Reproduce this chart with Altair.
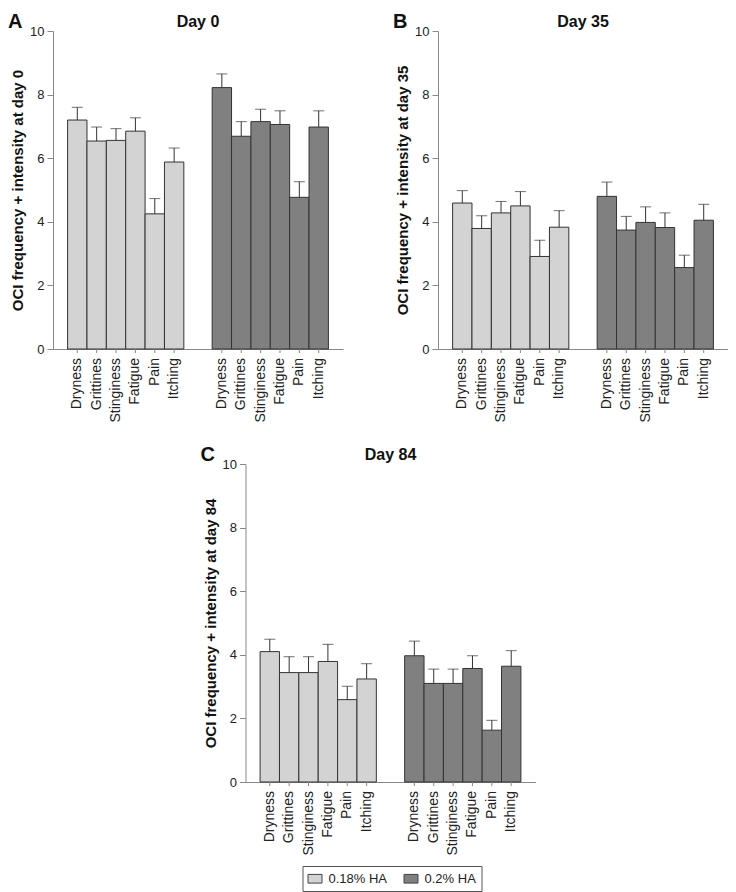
import altair as alt
import pandas as pd

FONT = "Liberation Sans"
W = 290
H = 318

symptoms = ["Dryness", "Grittines", "Stinginess", "Fatigue", "Pain", "Itching"]
groups = ["0.18% HA", "0.2% HA"]
fills = ["#d3d3d3", "#808080"]

# Day 0
d0_low = [7.20, 6.54, 6.56, 6.85, 4.25, 5.88]
d0_low_top = [7.60, 6.98, 6.93, 7.27, 4.73, 6.32]
d0_high = [8.22, 6.69, 7.15, 7.06, 4.77, 6.98]
d0_high_top = [8.65, 7.15, 7.54, 7.49, 5.26, 7.49]

# Day 35
d35_low = [4.59, 3.79, 4.28, 4.50, 2.91, 3.83]
d35_low_top = [4.98, 4.19, 4.64, 4.95, 3.42, 4.35]
d35_high = [4.80, 3.74, 3.98, 3.82, 2.56, 4.05]
d35_high_top = [5.25, 4.17, 4.47, 4.28, 2.95, 4.55]

# Day 84
d84_low = [4.10, 3.44, 3.44, 3.79, 2.59, 3.24]
d84_low_top = [4.49, 3.94, 3.94, 4.33, 3.01, 3.72]
d84_high = [3.97, 3.10, 3.10, 3.57, 1.63, 3.64]
d84_high_top = [4.43, 3.55, 3.55, 3.97, 1.94, 4.13]


def make_df(low, low_top, high, high_top):
    rows = []
    for s, v, t in zip(symptoms, low, low_top):
        rows.append({"group": groups[0], "symptom": s, "value": v, "top": t})
    for s, v, t in zip(symptoms, high, high_top):
        rows.append({"group": groups[1], "symptom": s, "value": v, "top": t})
    return pd.DataFrame(rows)


def panel(letter, title, ytitle, df, legend):
    base = alt.Chart(df)
    x = alt.X(
        "group:N",
        scale=alt.Scale(domain=groups, paddingInner=0.196, paddingOuter=0.101),
        axis=alt.Axis(labels=False, ticks=False, title=None, domainColor="#888888",
                      grid=False),
    )
    xo = alt.XOffset("symptom:N",
                     scale=alt.Scale(domain=symptoms, paddingInner=0, paddingOuter=0))
    y = alt.Y(
        "value:Q",
        scale=alt.Scale(domain=[0, 10], nice=False),
        axis=alt.Axis(values=[0, 2, 4, 6, 8, 10], title=ytitle, grid=False,
                      domainColor="#888888", tickColor="#888888", tickSize=6,
                      labelPadding=3, labelFontSize=13, labelColor="#222222",
                      labelFont=FONT, titleFont=FONT, titleFontSize=15,
                      titleFontWeight="bold", titleColor="#111111", titlePadding=4),
    )
    bars = base.mark_bar(stroke="#333333", strokeWidth=1).encode(
        x=x, xOffset=xo, y=y,
        fill=alt.Fill("group:N", scale=alt.Scale(domain=groups, range=fills),
                      legend=legend),
    )
    stem = base.mark_rule(color="#333333", strokeWidth=1).encode(
        x=x, xOffset=xo, y="value:Q", y2="top:Q")
    cap = base.mark_tick(color="#333333", size=11, thickness=1,
                         orient="horizontal").encode(x=x, xOffset=xo, y="top:Q")
    xticks = base.mark_rule(color="#888888", strokeWidth=1).encode(
        x=x, xOffset=xo, y=alt.value(H), y2=alt.value(H + 4))
    xlabels = base.mark_text(angle=270, align="right", baseline="middle",
                             font=FONT, fontSize=14, color="#222222").encode(
        x=x, xOffset=xo, y=alt.value(H + 9), text="symptom:N")
    ann = alt.Chart(pd.DataFrame({"letter": [letter], "title": [title]}))
    letter_mark = ann.mark_text(align="left", baseline="alphabetic", font=FONT,
                                fontSize=20, fontWeight="bold",
                                color="#111111").encode(
        x=alt.value(-45), y=alt.value(-3), text="letter:N")
    title_mark = ann.mark_text(align="center", baseline="alphabetic", font=FONT,
                               fontSize=16, fontWeight="bold",
                               color="#111111").encode(
        x=alt.value(W / 2), y=alt.value(-4), text="title:N")
    return alt.layer(bars, stem, cap, xticks, xlabels, letter_mark,
                     title_mark).properties(width=W, height=H)


legend_c = alt.Legend(
    orient="none", legendX=(W - 176) / 2, legendY=H + 84, direction="horizontal",
    title=None, symbolType="M-1,-0.62L1,-0.62L1,0.62L-1,0.62Z", symbolSize=196,
    symbolStrokeColor="#444444", symbolStrokeWidth=1, labelFontSize=13,
    labelFont=FONT, labelColor="#222222", labelOffset=6, columnPadding=14,
    padding=5, strokeColor="#555555",
)

pa = panel("A", "Day 0", "OCI frequency + intensity at day 0",
           make_df(d0_low, d0_low_top, d0_high, d0_high_top), None)
pb = panel("B", "Day 35", "OCI frequency + intensity at day 35",
           make_df(d35_low, d35_low_top, d35_high, d35_high_top), None)
pc = panel("C", "Day 84", "OCI frequency + intensity at day 84",
           make_df(d84_low, d84_low_top, d84_high, d84_high_top), legend_c)

top_row = alt.hconcat(pa, pb, spacing=50).resolve_scale(fill="independent")
chart = alt.vconcat(top_row, pc, spacing=22, center=True).resolve_scale(
    fill="independent"
).properties(padding={"left": 0, "top": 4, "right": 0, "bottom": 0}).configure(
    font=FONT
).configure_view(strokeWidth=0)

chart.save("out.html", embed_options={"renderer": "svg", "actions": False})
